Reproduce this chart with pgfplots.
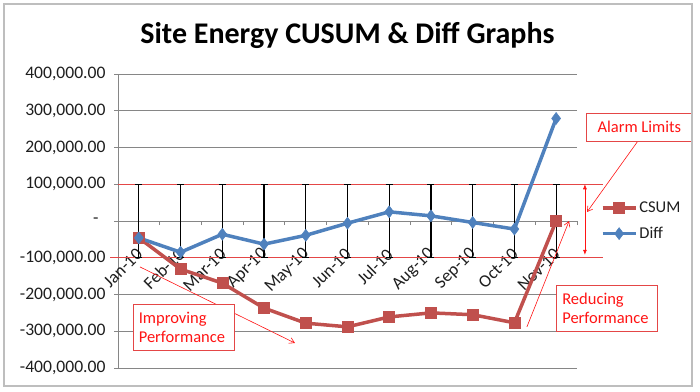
\documentclass[border=0pt]{standalone}
\usepackage{pgfplots}
\pgfplotsset{compat=1.18}
\usepackage{fontspec}
\setmainfont{Carlito}
\usetikzlibrary{arrows.meta}
\definecolor{csum}{RGB}{192,80,77}
\definecolor{diff}{RGB}{79,129,189}
\definecolor{gridgray}{RGB}{134,134,134}
\definecolor{tickcol}{RGB}{30,30,30}
\definecolor{annred}{RGB}{255,20,20}
\definecolor{limred}{RGB}{228,70,70}
\definecolor{framegray}{RGB}{190,190,190}
\newcommand{\lbl}{\fontsize{16.5}{19.5}\selectfont}
\newcommand{\tlbl}{\fontsize{17.6}{20}\selectfont}

\begin{document}
\begin{tikzpicture}
\useasboundingbox (-118pt,-23pt) rectangle (582pt,368pt);
\begin{axis}[
  scale only axis, width=459pt, height=294pt,
  xmin=-0.5, xmax=10.5, ymin=-400000, ymax=400000,
  clip=false,
  axis x line*=middle, axis y line*=left,
  axis line style={gridgray, line width=0.9pt},
  xtick={-0.5,0.5,...,10.5}, xticklabels={},
  extra x ticks={0,1,2,3,4,5,6,7,8,9,10},
  extra x tick labels={Jan-10,Feb-10,Mar-10,Apr-10,May-10,Jun-10,Jul-10,Aug-10,Sep-10,Oct-10,Nov-10},
  extra x tick style={major tick length=0pt, xmajorgrids=false,
    tick label style={yshift=-28pt, xshift=3pt, rotate=45, anchor=east}},
  ytick={-400000,-300000,-200000,-100000,0,100000,200000,300000,400000},
  yticklabels={{-400,000.00},{-300,000.00},{-200,000.00},{-100,000.00},{-\kern7pt},{100,000.00},{200,000.00},{300,000.00},{400,000.00}},
  scaled y ticks=false,
  tick align=outside, major tick length=4pt,
  tick style={gridgray, line width=0.9pt},
  ymajorgrids, grid style={gridgray, line width=0.9pt},
  tick label style={font=\tlbl, text=tickcol},
  yticklabel style={xshift=-5pt},
  legend style={draw=none, fill=none, at={(1.045,0.5)}, anchor=west, font=\lbl,
    row sep=9pt, text=tickcol},
  legend cell align=left,
  legend image code/.code={\draw[#1, mark repeat=2, mark phase=2] plot coordinates {(0pt,0pt) (16.5pt,0pt) (33pt,0pt)};},
]
% alarm limit lines
\addplot[limred, line width=0.8pt, forget plot] coordinates {(-0.5,100000) (11.12,100000)};
\addplot[limred, line width=0.8pt, forget plot] coordinates {(-0.69,-100000) (11.12,-100000)};
% high-low bars
\addplot[draw=none, mark=none, forget plot,
  error bars/.cd, y dir=both, y fixed=100000,
  error bar style={draw=black, line width=1.1pt},
  error mark options={draw=black, line width=1.3pt, mark size=3.5pt, rotate=90}]
  coordinates {(0,0) (1,0) (2,0) (3,0) (4,0) (5,0) (6,0) (7,0) (8,0) (9,0) (10,0)};
% CSUM
\addplot[csum, line width=3.5pt, mark=square*, mark size=5.5pt, mark options={line width=0.5pt}]
  coordinates {(0,-46000) (1,-131000) (2,-169000) (3,-237000) (4,-278000) (5,-288000)
               (6,-261000) (7,-250000) (8,-255000) (9,-277000) (10,0)};
\addlegendentry{CSUM}
% Diff
\addplot[diff, line width=3.5pt, mark=diamond*, mark size=6pt, mark options={line width=0.5pt}]
  coordinates {(0,-46000) (1,-85000) (2,-36000) (3,-63000) (4,-39000) (5,-6000)
               (6,25000) (7,14000) (8,-4000) (9,-22000) (10,279000)};
\addlegendentry{Diff}

% title
\node[anchor=base, font=\bfseries\fontsize{30}{34}\selectfont, text=black]
  at (rel axis cs:0.5,1) [yshift=31pt] {Site Energy CUSUM \& Diff Graphs};

% annotations
\draw[annred, line width=0.6pt, -{Straight Barb[length=5pt,width=6pt]}]
  (axis cs:0.027,-125000) -- (axis cs:3.74,-332000);
\node[draw=limred, line width=0.6pt, fill=white, text=annred, anchor=north west,
  minimum height=46pt, text width=90pt, inner xsep=5.5pt, align=left, font=\lbl]
  at (axis cs:-0.14,-225800) {Improving\\Performance};

\draw[annred, line width=0.6pt, -{Straight Barb[length=5pt,width=6pt]}]
  (axis cs:9.30,-288000) -- (axis cs:10.31,0);
\node[draw=limred, line width=0.6pt, fill=white, text=annred, anchor=north west,
  minimum height=46pt, text width=89pt, inner xsep=6pt, align=left, font=\lbl]
  at (axis cs:9.997,-174100) {Reducing\\Performance};

\draw[annred, line width=0.6pt, {Latex[length=5pt,width=4pt]}-{Latex[length=5pt,width=4pt]}]
  (axis cs:10.69,100000) -- (axis cs:10.69,-92000);
\draw[annred, line width=0.6pt, -{Straight Barb[length=5pt,width=6pt]}]
  (axis cs:11.96,217700) -- (axis cs:10.74,24500);
\node[draw=limred, line width=0.6pt, fill=white, text=annred, anchor=north west,
  minimum height=28pt, minimum width=106pt, inner xsep=4pt, font=\lbl]
  at (axis cs:10.716,293900) {Alarm Limits};
\end{axis}
\draw[framegray, line width=1.2pt] (-114pt,-18pt) rectangle (574pt,364pt);
\end{tikzpicture}
\end{document}
